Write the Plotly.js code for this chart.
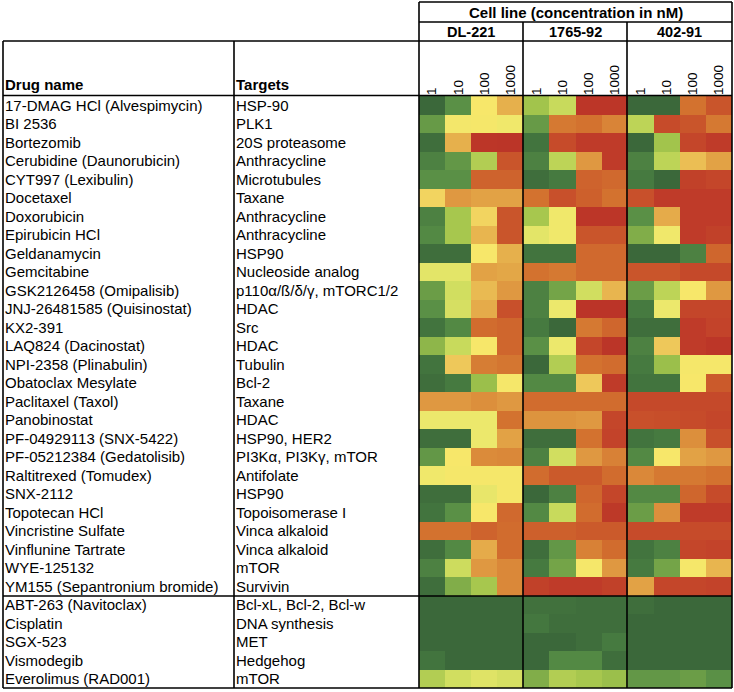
<!DOCTYPE html>
<html>
<head>
<meta charset="utf-8">
<script src="https://cdn.plot.ly/plotly-3.0.1.min.js"></script>
<style>html,body{margin:0;padding:0;background:#fff;}#chart{width:734px;height:692px;}</style>
</head>
<body>
<div id="chart"></div>
<script>
// ---------------- DATA ----------------
const drugNames = [
  "17-DMAG HCl (Alvespimycin)", "BI 2536", "Bortezomib", "Cerubidine (Daunorubicin)",
  "CYT997 (Lexibulin)", "Docetaxel", "Doxorubicin", "Epirubicin HCl", "Geldanamycin",
  "Gemcitabine", "GSK2126458 (Omipalisib)", "JNJ-26481585 (Quisinostat)", "KX2-391",
  "LAQ824 (Dacinostat)", "NPI-2358 (Plinabulin)", "Obatoclax Mesylate", "Paclitaxel (Taxol)",
  "Panobinostat", "PF-04929113 (SNX-5422)", "PF-05212384 (Gedatolisib)", "Raltitrexed (Tomudex)",
  "SNX-2112", "Topotecan HCl", "Vincristine Sulfate", "Vinflunine Tartrate", "WYE-125132",
  "YM155 (Sepantronium bromide)", "ABT-263 (Navitoclax)", "Cisplatin", "SGX-523",
  "Vismodegib", "Everolimus (RAD001)"
];
const targets = [
  "HSP-90", "PLK1", "20S proteasome", "Anthracycline", "Microtubules", "Taxane",
  "Anthracycline", "Anthracycline", "HSP90", "Nucleoside analog", "p110α/ß/δ/γ, mTORC1/2",
  "HDAC", "Src", "HDAC", "Tubulin", "Bcl-2", "Taxane", "HDAC", "HSP90, HER2",
  "PI3Kα, PI3Kγ, mTOR", "Antifolate", "HSP90", "Topoisomerase I", "Vinca alkaloid",
  "Vinca alkaloid", "mTOR", "Survivin", "Bcl-xL, Bcl-2, Bcl-w", "DNA synthesis", "MET",
  "Hedgehog", "mTOR"
];
const cellLines = ["DL-221", "1765-92", "402-91"];
const concLabels = ["1", "10", "100", "1000"];

// Response score per drug and concentration (100 = dark green / no effect, 0 = red / strong effect)
const dl221 = [
  [100,88,55,45],[85,57,56,58],[98,45,8,6],[92,86,72,20],[88,88,25,25],[52,40,42,42],
  [92,74,52,20],[90,74,46,20],[98,98,55,45],[62,62,42,43],[84,66,47,40],[88,65,44,18],
  [96,90,28,26],[78,68,55,26],[96,50,33,31],[98,94,76,56],[40,40,38,40],[60,60,60,30],
  [98,98,60,42],[86,55,37,36],[58,56,56,56],[98,98,61,56],[96,88,55,27],[30,30,25,28],
  [98,90,44,28],[92,67,40,36],[98,80,74,36],[100,100,100,100],[100,100,100,100],
  [100,100,100,100],[96,100,100,100],[72,66,63,65]
];
const cl176592 = [
  [75,68,8,8],[85,32,30,35],[96,16,10,10],[92,70,40,10],[98,94,25,27],[30,18,24,30],
  [74,58,8,8],[62,58,20,20],[96,96,27,27],[30,32,27,27],[92,82,66,46],[92,60,5,5],
  [94,100,32,26],[88,60,14,6],[100,72,30,28],[90,90,50,10],[28,28,28,28],[39,39,40,14],
  [98,98,30,13],[92,66,40,34],[28,22,22,28],[100,92,26,14],[90,68,28,9],[24,24,22,22],
  [98,86,34,28],[94,82,56,40],[12,10,10,12],[97,97,98,98],[95,98,98,98],
  [100,100,98,94],[100,90,90,98],[80,72,74,76]
];
const cl40291 = [
  [100,100,30,20],[70,16,20,32],[100,75,14,10],[92,70,48,42],[94,100,12,14],[18,10,10,10],
  [88,44,10,10],[80,58,10,12],[100,100,92,26],[20,20,15,15],[84,70,55,40],[94,60,14,14],
  [98,98,10,13],[92,50,10,8],[94,76,56,56],[96,96,55,22],[15,15,15,15],[18,17,16,14],
  [96,94,38,18],[90,55,42,40],[36,32,32,30],[90,90,26,16],[84,38,10,10],[16,16,16,16],
  [96,92,14,13],[94,82,56,46],[42,14,14,13],[98,100,100,100],[100,100,100,100],
  [100,100,100,100],[100,100,100,100],[86,86,84,88]
];

// ---------------- BUILD ----------------
const W = 734, H = 692;
const px = x => x / W;
const py = y => 1 - y / H;

const z = drugNames.map((d, i) => dl221[i].concat(cl176592[i], cl40291[i]));
const xIdx = [];
const xText = [];
cellLines.forEach(() => concLabels.forEach(c => { xIdx.push(xIdx.length); xText.push(c); }));
const yIdx = drugNames.map((d, i) => i);

const colorscale = [
  [0.00, '#b83028'], [0.08, '#bc3628'], [0.14, '#c4462a'], [0.22, '#cb5a2b'],
  [0.30, '#d3722f'], [0.38, '#dc8f3c'], [0.45, '#e6b04c'], [0.50, '#eec85a'],
  [0.55, '#f7e76a'], [0.60, '#ece86c'], [0.68, '#c8da5c'], [0.75, '#a2c44c'],
  [0.82, '#74a448'], [0.88, '#5a9046'], [0.94, '#467a40'], [1.00, '#3b683a']
];

const FONT = 'Liberation Sans, Arial, Helvetica, sans-serif';

const trace = {
  type: 'heatmap',
  x: xIdx, y: yIdx, z: z,
  zmin: 0, zmax: 100,
  colorscale: colorscale,
  showscale: false,
  xgap: 0, ygap: 0,
  hoverinfo: 'skip'
};

// table geometry (pixels)
const L = 3, C1 = 234, C2 = 419, R = 732;
const G1 = 523, G2 = 627;
const TOP = 2, T1 = 22, T2 = 41, HB = 96, SEP = 596, BOT = 688;
const rowH = (BOT - HB) / drugNames.length;

const shapes = [];
function line(x0, y0, x1, y1, w) {
  shapes.push({type: 'line', xref: 'paper', yref: 'paper',
    x0: px(x0), y0: py(y0), x1: px(x1), y1: py(y1),
    line: {color: '#000', width: w || 1.6}});
}
line(C2, TOP, R, TOP);
line(C2, T1, R, T1);
line(L, T2, R, T2);
line(L, HB - 0.5, R, HB - 0.5);
line(L, SEP, R, SEP);
line(L, BOT, R, BOT);
line(L, T2, L, BOT);
line(C1, T2, C1, BOT);
line(C2, TOP, C2, BOT);
line(R, TOP, R, BOT);
line(G1, T1, G1, BOT);
line(G2, T1, G2, BOT);

const annotations = [];
function txt(t, x, y, opts) {
  annotations.push(Object.assign({
    text: t, xref: 'paper', yref: 'paper', x: px(x), y: py(y),
    xanchor: 'left', yanchor: 'middle', showarrow: false,
    font: {family: FONT, size: 15, color: '#000'}
  }, opts || {}));
}
txt('<b>Cell line (concentration in nM)</b>', (C2 + R) / 2, 12.5, {xanchor: 'center', font: {family: FONT, size: 15, color: '#000'}});
const gx = [C2, G1, G2, R];
cellLines.forEach((c, i) => txt('<b>' + c + '</b>', (gx[i] + gx[i + 1]) / 2, 32, {xanchor: 'center', font: {family: FONT, size: 14.5, color: '#000'}}));
txt('<b>Drug name</b>', 3, 85);
txt('<b>Targets</b>', 234, 85);
drugNames.forEach((d, i) => {
  const yc = HB + rowH * (i + 0.5);
  txt(d, 3, yc);
  txt(targets[i], 234, yc);
});

const layout = {
  width: W, height: H,
  margin: {l: 0, r: 0, t: 0, b: 0},
  paper_bgcolor: '#fff', plot_bgcolor: '#fff',
  showlegend: false,
  font: {family: FONT, color: '#000'},
  xaxis: {
    domain: [px(C2), px(R)], range: [-0.5, 11.5],
    side: 'top', tickmode: 'array', tickvals: xIdx, ticktext: xText,
    tickangle: -90, tickfont: {family: FONT, size: 13.5, color: '#000'},
    ticks: '', showgrid: false, zeroline: false, showline: false, fixedrange: true
  },
  yaxis: {
    domain: [py(BOT), py(HB)], range: [drugNames.length - 0.5, -0.5],
    showticklabels: false, ticks: '', showgrid: false, zeroline: false, showline: false, fixedrange: true
  },
  shapes: shapes,
  annotations: annotations
};

Plotly.newPlot('chart', [trace], layout, {staticPlot: true, displayModeBar: false});
</script>
</body>
</html>
